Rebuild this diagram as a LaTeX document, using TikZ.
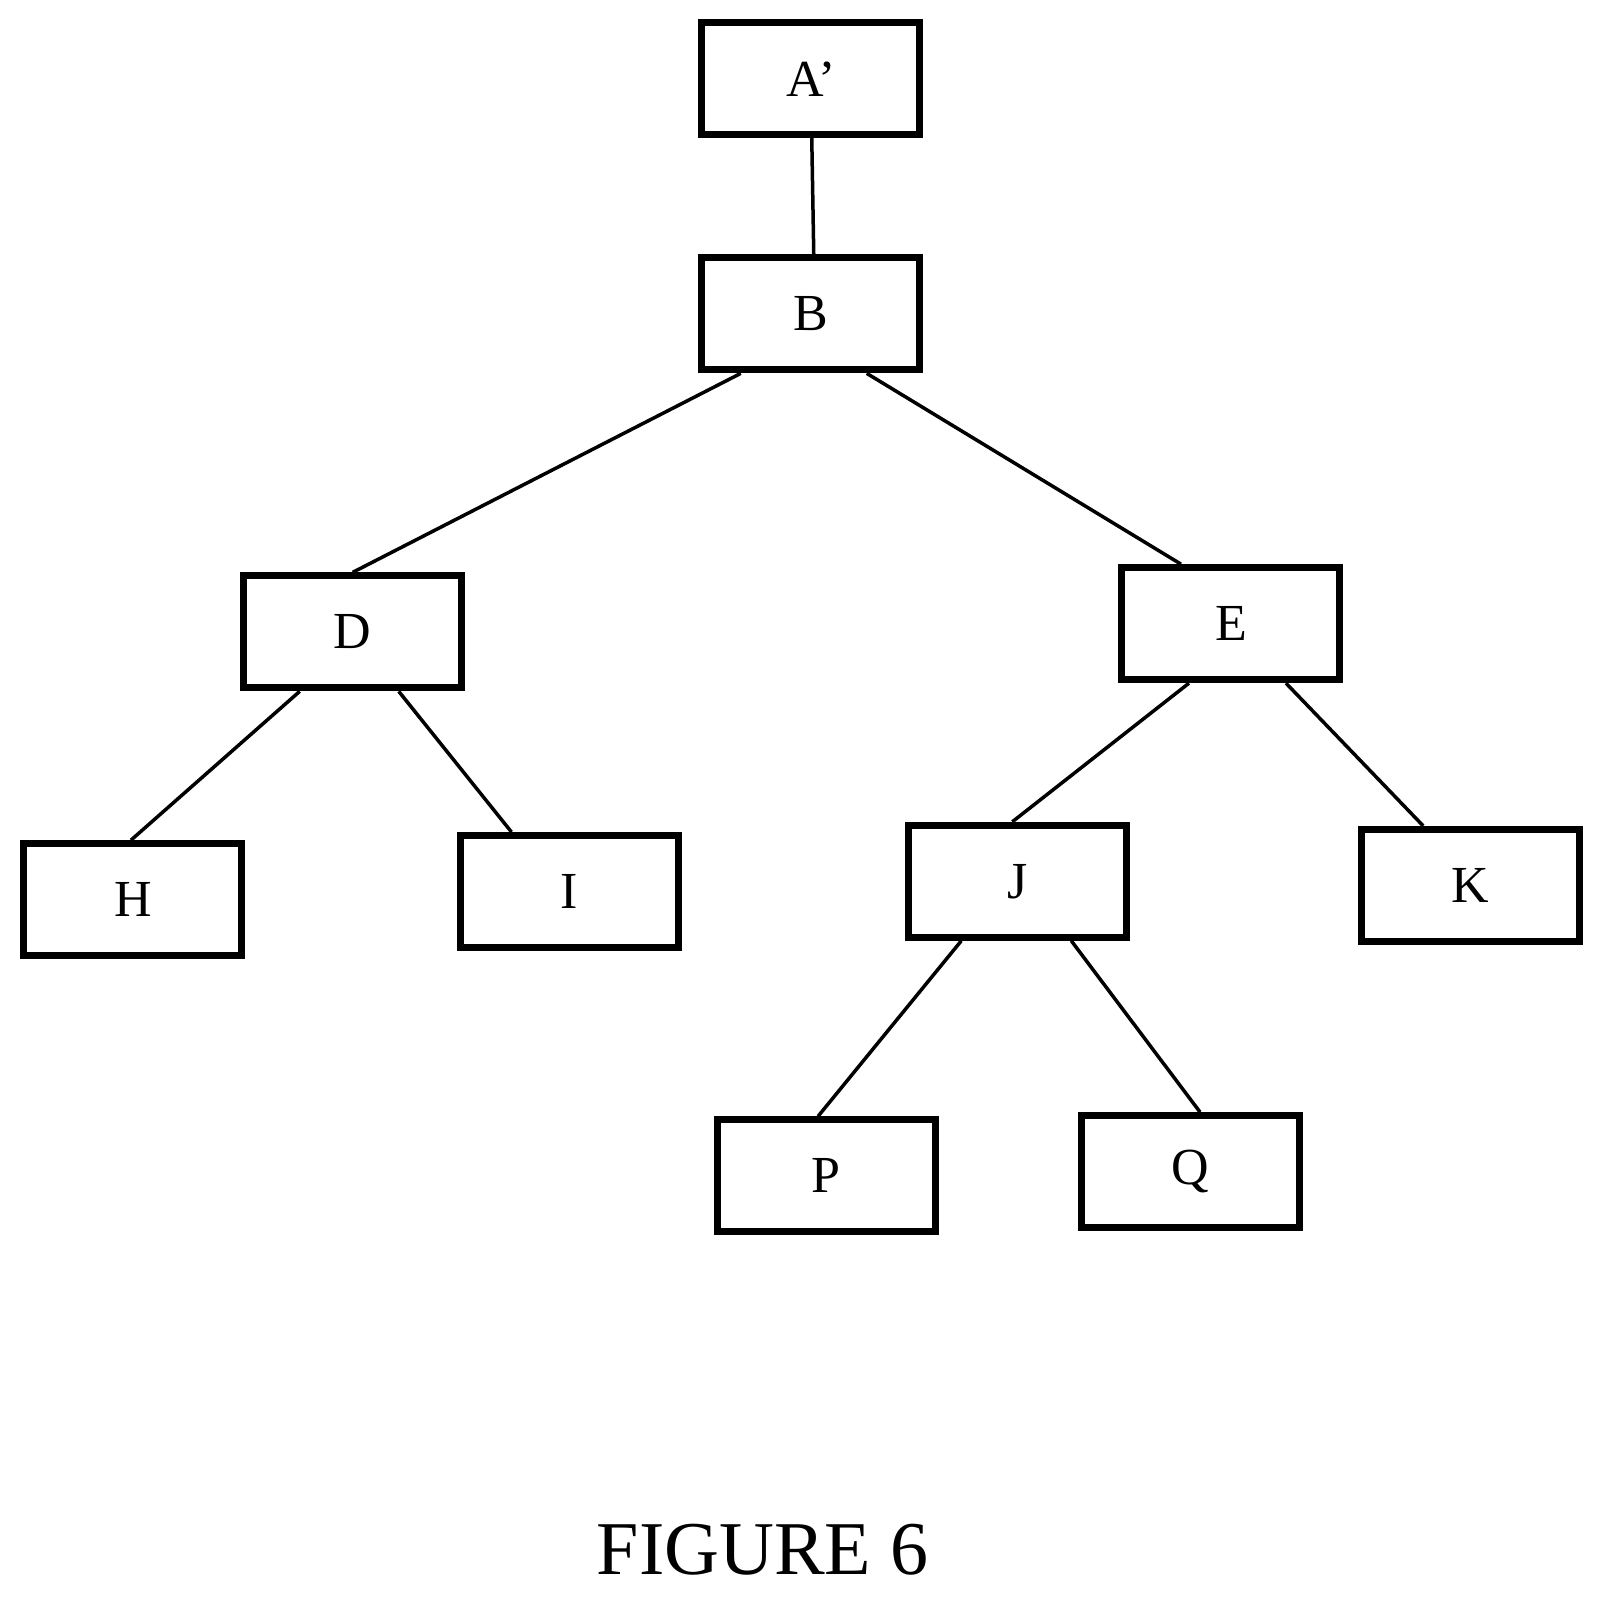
\documentclass[tikz,border=0pt]{standalone}
\usepackage{fontspec}
\setmainfont{Liberation Serif}
\begin{document}
\begin{tikzpicture}[x=1.0224pt,y=-1.0224pt,
  box/.style={draw,line width=7pt,minimum width=218pt,minimum height=112pt,inner sep=0pt,font=\fontsize{52}{58}\selectfont},
  edge/.style={line width=3.5pt}]
\useasboundingbox (0,0) rectangle (1563,1563);
\node[box] (A) at (793,77) {A’};
\node[box] (B) at (793,307) {B};
\node[box] (D) at (345,618) {D};
\node[box] (E) at (1204,610) {E};
\node[box] (H) at (130,880) {H};
\node[box] (I) at (557,872) {I};
\node[box] (J) at (995,862) {J};
\node[box] (K) at (1438,866) {K};
\node[box] (P) at (808,1150) {P};
\node[box] (Q) at (1164,1146) {Q};
\node[font=\fontsize{76}{84}\selectfont] (F) at (746,1516) {FIGURE 6};
\draw[edge] ([xshift=1pt]A.south) -- ([xshift=3pt]B.north);
\draw[edge] ([xshift=-70pt]B.south) -- (D.north);
\draw[edge] ([xshift=56pt]B.south) -- ([xshift=-50pt]E.north);
\draw[edge] ([xshift=-53pt]D.south) -- ([xshift=-2pt]H.north);
\draw[edge] ([xshift=46pt]D.south) -- ([xshift=-58pt]I.north);
\draw[edge] ([xshift=-42pt]E.south) -- ([xshift=-5pt]J.north);
\draw[edge] ([xshift=55pt]E.south) -- ([xshift=-47pt]K.north);
\draw[edge] ([xshift=-56pt]J.south) -- ([xshift=-8pt]P.north);
\draw[edge] ([xshift=54pt]J.south) -- ([xshift=10pt]Q.north);
\end{tikzpicture}
\end{document}
